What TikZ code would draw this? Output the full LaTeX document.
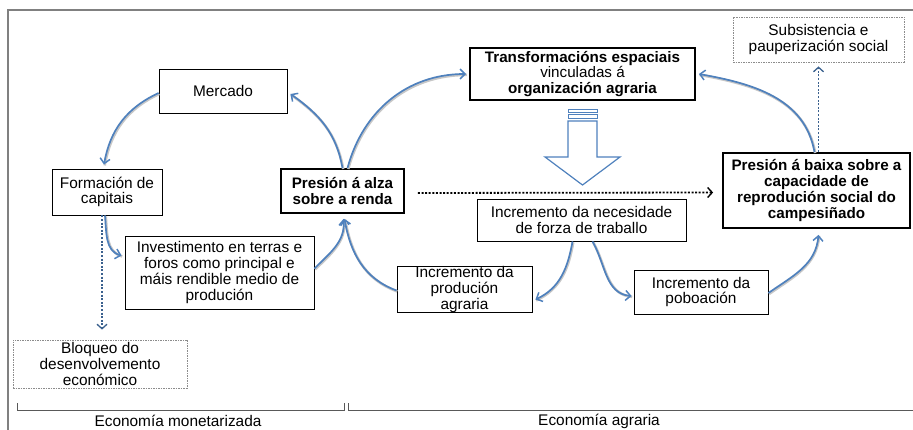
\documentclass[tikz,border=0pt]{standalone}
\usepackage{fontspec}
\setmainfont{Liberation Sans}
\usetikzlibrary{arrows.meta}
\definecolor{arrowblue}{RGB}{79,129,189}
\definecolor{framegray}{RGB}{128,128,128}
\begin{document}
\begin{tikzpicture}[x=1pt,y=-1pt,
  every node/.style={font=\fontsize{15.4}{15.7}\selectfont, align=center, inner sep=0pt},
  box/.style={draw=black, line width=0.9pt, fill=white},
  boldbox/.style={draw=black, line width=1.8pt, fill=white, font=\fontsize{15.2}{15.7}\selectfont\bfseries},
  dbox/.style={draw=black!45, dash pattern=on 1.5pt off 1pt, line width=0.8pt, fill=white},
  barrow/.style={draw=arrowblue, line width=1.7pt, -{Straight Barb[length=5pt,width=10pt,line width=1.5pt]},
    preaction={draw=black!22, line width=2.6pt, -, transform canvas={shift={(0.7pt,-0.9pt)}}}},
  dotblue/.style={draw=arrowblue!75!black, line width=1.8pt, dash pattern=on 2pt off 1.6pt, -{Straight Barb[length=4.5pt,width=10pt,line width=1.3pt]}},
  dotblack/.style={draw=black, line width=1.8pt, dash pattern=on 2pt off 1.6pt, -{Straight Barb[length=4.5pt,width=10pt,line width=1.4pt]}},
  bracket/.style={draw=black!65, line width=0.9pt}
]
\useasboundingbox (0,0) rectangle (913,430);
% frame
\draw[framegray, line width=1.4pt] (8,430) -- (8,10) -- (913,10);
\coordinate (bl1) at (17,403); \coordinate (bl2) at (344,403);
\coordinate (br1) at (348,403); \coordinate (br2) at (913,410);
\draw[bracket] (bl1) -- (17,410) -- (344,410) -- (bl2);
\draw[bracket] (br1) -- (348,410) -- (br2);
\node (econm) at (178,421) {Economía monetarizada};
\node (econa) at (599,421) {Economía agraria};

% boxes
\node[box, minimum width=128pt, minimum height=44pt] (merc) at (223,91) {Mercado};
\node[box, minimum width=110pt, minimum height=46pt] (form) at (107,192) {Formación de\\capitais};
\node[boldbox, minimum width=123pt, minimum height=44pt] (alza) at (342.5,191) {Presión á alza\\sobre a renda};
\node[box, minimum width=189pt, minimum height=73pt] (inv) at (219.5,272.5) {Investimento en terras e\\foros como principal e\\máis rendible medio de\\produción};
\node[dbox, minimum width=174pt, minimum height=48pt] (bloq) at (100,364) {Bloqueo do\\desenvolvemento\\económico};
\node[boldbox, minimum width=225pt, minimum height=52pt] (trans) at (582.5,74) {Transformacións espaciais\\\mdseries vinculadas á\\organización agraria};
\node[dbox, minimum width=171pt, minimum height=45pt] (subs) at (818.5,39.5) {Subsistencia e\\pauperización social};
\node[boldbox, minimum width=187pt, minimum height=75pt] (baixa) at (816.5,190.5) {Presión á baixa sobre a\\capacidade de\\reprodución social do\\campesiñado};
\node[box, minimum width=209pt, minimum height=42pt] (nec) at (581.5,220) {Incremento da necesidade\\de forza de traballo};
\node[box, minimum width=135pt, minimum height=45pt] (prod) at (464.5,289.5) {Incremento da\\produción\\agraria};
\node[box, minimum width=134pt, minimum height=44pt] (pob) at (701,292) {Incremento da\\poboación};

% block arrow
\draw[arrowblue, line width=1.2pt, fill=white]
  (568,121) -- (597,121) -- (597,157) -- (620,157) -- (582.5,185) -- (545,157) -- (568,157) -- cycle;
\draw[arrowblue, line width=1pt, fill=white] (568,110) rectangle (597,112.5);
\draw[arrowblue, line width=1pt, fill=white] (568,114.5) rectangle (597,118.5);

% curved arrows
\draw[barrow] ([xshift=0pt]alza.north) to[out=100,in=-35] ([xshift=3pt,yshift=-3pt]merc.east);
\draw[barrow] ([xshift=5pt]alza.north) to[out=75,in=180] ([xshift=-3pt]trans.west);
\draw[barrow] ([yshift=-2pt]merc.west) to[out=205,in=80] ([xshift=-3pt,yshift=4pt]form.north);
\draw[barrow] ([xshift=-2pt]form.south) to[out=-85,in=165] ([xshift=-3pt,yshift=17pt]inv.west);
\draw[barrow] ([yshift=4pt]inv.east) to[out=45,in=-85] ([xshift=1pt,yshift=-5pt]alza.south);
\draw[barrow] ([yshift=-1pt]prod.west) to[out=160,in=-80] ([xshift=2pt,yshift=-5pt]alza.south);
\draw[barrow] ([xshift=-2pt]baixa.north) to[out=100,in=-10] ([xshift=3pt]trans.east);
\draw[barrow] ([xshift=-9pt]nec.south) to[out=-100,in=25] ([xshift=3pt,yshift=-10pt]prod.east);
\draw[barrow] ([xshift=11pt]nec.south) to[out=-60,in=175] ([xshift=-2pt,yshift=-4pt]pob.west);
\draw[barrow] ([yshift=-1pt]pob.east) to[out=35,in=-95] ([xshift=2pt,yshift=-6pt]baixa.south);

% dotted arrows
\draw[dotblue] ([xshift=-5pt]form.south) -- ([xshift=2pt,yshift=10pt]bloq.north);
\draw[dotblue] ([xshift=2pt]baixa.north) -- ([yshift=-4pt]subs.south);
\draw[dotblack] ([xshift=13pt,yshift=-2pt]alza.east) -- ([xshift=-9pt,yshift=-2pt]baixa.west);
\end{tikzpicture}
\end{document}
